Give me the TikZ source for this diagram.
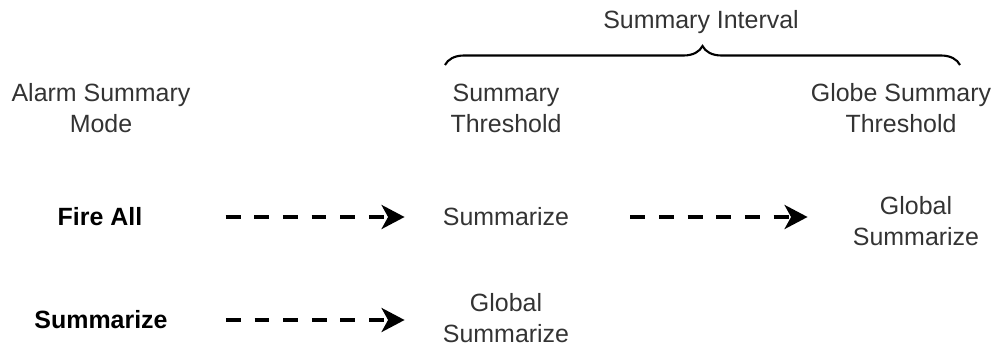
\documentclass[tikz,border=0pt]{standalone}
\usepackage{fontspec}
\setmainfont{Liberation Sans}
\usetikzlibrary{arrows.meta,decorations.pathreplacing}

\begin{document}
\begin{tikzpicture}[x=0.02cm, y=-0.02cm,
    every node/.style={align=center, inner sep=0pt, text=black!80,
      font=\fontsize{14.2}{17.6}\selectfont},
    mode/.style={text=black, font=\fontsize{14.2}{17.6}\selectfont\bfseries},
    flow/.style={line width=2.2pt, dash pattern=on 8.5pt off 7.8pt,
      -{Stealth[length=0.46cm, width=0.48cm, inset=0.13cm]}}]
      \useasboundingbox (0,0) rectangle (994,345);

      % Interval brace over the two thresholds
      \node (intv) at (701,22) {Summary Interval};
      \draw[line width=1.2pt, decorate, decoration={brace, amplitude=0.38cm}]
        (445,65) -- (960,65);

      % Column headers
      \node (hmode) at (101,108) {Alarm Summary\\Mode};
      \node (hthr) at (506,108) {Summary\\Threshold};
      \node (hglob) at (901,108) {Globe Summary\\Threshold};

      % Row "Fire All"
      \node[mode] (fire) at (100,217) {Fire All};
      \node (sum1) at (506,217) {Summarize};
      \node (glob1) at (916,221) {Global\\Summarize};

      % Row "Summarize"
      \node[mode] (summ) at (101,320) {Summarize};
      \node (glob2) at (506,318) {Global\\Summarize};

      % Arrows
      \draw[flow, shorten <=1.66cm, shorten >=0.76cm] (fire.east) -- (sum1.west);
      \draw[flow, shorten <=1.22cm, shorten >=0.9cm] (sum1.east) -- (sum1.east -| glob1.west);
      \draw[flow, shorten <=1.16cm, shorten >=0.76cm] (summ.east) -- (summ.east -| glob2.west);
\end{tikzpicture}
\end{document}
